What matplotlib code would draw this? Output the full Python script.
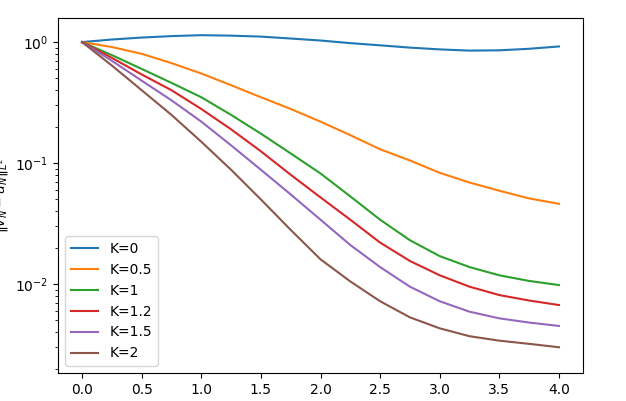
import matplotlib
matplotlib.use("Agg")
import matplotlib.pyplot as plt
import numpy as np

time = np.arange(0, 4.01, 0.25)

k_labels = ["K=0", "K=0.5", "K=1", "K=1.2", "K=1.5", "K=2"]

err_k0 = [1.0, 1.05, 1.09, 1.12, 1.14, 1.13, 1.11, 1.07, 1.03, 0.98, 0.94, 0.90, 0.87, 0.85, 0.855, 0.88, 0.92]
err_k05 = [1.0, 0.91, 0.80, 0.67, 0.55, 0.44, 0.35, 0.28, 0.22, 0.17, 0.13, 0.105, 0.083, 0.069, 0.059, 0.051, 0.046]
err_k1 = [1.0, 0.78, 0.60, 0.46, 0.35, 0.25, 0.175, 0.12, 0.082, 0.053, 0.034, 0.023, 0.017, 0.0138, 0.0118, 0.0106, 0.0098]
err_k12 = [1.0, 0.74, 0.54, 0.40, 0.28, 0.19, 0.125, 0.08, 0.052, 0.034, 0.022, 0.0155, 0.0118, 0.0095, 0.0081, 0.0073, 0.0067]
err_k15 = [1.0, 0.70, 0.48, 0.33, 0.22, 0.14, 0.088, 0.055, 0.034, 0.021, 0.0138, 0.0095, 0.0072, 0.0059, 0.0052, 0.0048, 0.0045]
err_k2 = [1.0, 0.64, 0.40, 0.25, 0.15, 0.088, 0.050, 0.028, 0.016, 0.0105, 0.0072, 0.0053, 0.0043, 0.0037, 0.0034, 0.0032, 0.0030]

series = [err_k0, err_k05, err_k1, err_k12, err_k15, err_k2]

fig, ax = plt.subplots(figsize=(6.26, 4.01), dpi=100)
for label, err in zip(k_labels, series):
    ax.plot(time, err, label=label)

ax.set_yscale("log")
ax.set_ylim(0.00184, 1.58)
ax.set_xlabel("time")
ax.set_ylabel(r"$\Vert v_N - u_N \Vert_{L^2}$")
ax.legend(loc="lower left")

fig.subplots_adjust(left=0.093, right=0.931, top=0.955, bottom=0.07)
fig.savefig("out.png")
